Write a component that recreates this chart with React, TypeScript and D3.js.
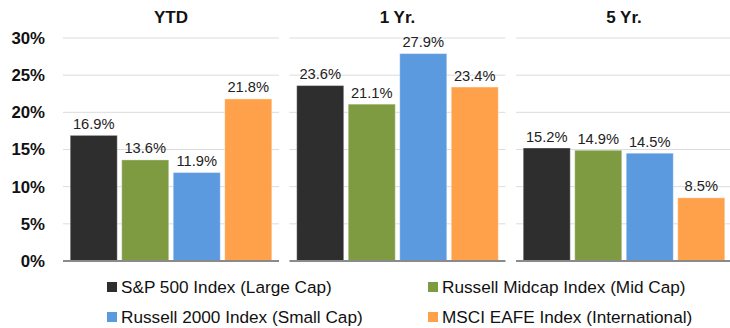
import * as React from 'react';
import * as d3 from 'd3';

const periods = ['YTD', '1 Yr.', '5 Yr.'];
const seriesNames = [
    'S&P 500 Index (Large Cap)',
    'Russell Midcap Index (Mid Cap)',
    'Russell 2000 Index (Small Cap)',
    'MSCI EAFE Index (International)'
];
const seriesColors = ['#2e2e2e', '#7f9b42', '#5c9ae0', '#ffa04a'];
// one row per series, one value per period
const sp500 = [16.9, 23.6, 15.2];
const midcap = [13.6, 21.1, 14.9];
const russell2000 = [11.9, 27.9, 14.5];
const eafe = [21.8, 23.4, 8.5];
const yTicks = [0, 5, 10, 15, 20, 25, 30];

const allSeries = [sp500, midcap, russell2000, eafe];

const width = 730;
const height = 328;

export default function App() {
    const y = d3.scaleLinear().domain([0, 30]).range([261, 38]);

    // panels
    const panel = d3.scaleBand<string>()
        .domain(periods)
        .range([63, 732])
        .paddingInner(0.0464)
        .paddingOuter(0);

    const inner = d3.scaleBand<number>()
        .domain(d3.range(seriesNames.length))
        .range([0, panel.bandwidth()])
        .paddingInner(0.087)
        .paddingOuter(0.14);

    const font = 'Liberation Sans, Arial, sans-serif';

    // legend placement
    const legendCols = [107, 428];
    const legendRows = [287, 317];

    return (
        <svg width={width} height={height}
            style={{ position: 'absolute', left: 0, top: 0, fontFamily: font }}>
            <rect width={width} height={height} fill="#ffffff" />

            {yTicks.map(t => (
                <text key={'yt' + t} x={45} y={y(t)} dy="0.35em" textAnchor="end"
                    fontSize={16.8} fontWeight="bold" fill="#111">
                    {t + '%'}
                </text>
            ))}

            {periods.map((p, pi) => {
                const x0 = panel(p) as number;
                const x1 = x0 + panel.bandwidth();
                return (
                    <g key={p}>
                        {yTicks.filter(t => t > 0).map(t => (
                            <line key={t} x1={x0} x2={x1} y1={y(t)} y2={y(t)}
                                stroke="#dcdcdc" strokeWidth={1} />
                        ))}
                        <text x={x0 + (inner(0) as number + (inner(3) as number) + inner.bandwidth()) / 2}
                            y={23} textAnchor="middle" fontSize={17} fontWeight="bold" fill="#111">
                            {p}
                        </text>
                        {allSeries.map((s, si) => {
                            const bx = x0 + (inner(si) as number);
                            const v = s[pi];
                            return (
                                <g key={si}>
                                    <rect x={bx} y={y(v)} width={inner.bandwidth()}
                                        height={y(0) - y(v)} fill={seriesColors[si]}
                                        stroke="#ffffff" strokeOpacity={0.35} strokeWidth={1} />
                                    <text x={bx + inner.bandwidth() / 2} y={y(v) - 6.5}
                                        textAnchor="middle" fontSize={14.7} fill="#222">
                                        {v.toFixed(1) + '%'}
                                    </text>
                                </g>
                            );
                        })}
                        <line x1={x0} x2={x1} y1={y(0)} y2={y(0)} stroke="#8a8a8a" strokeWidth={2} />
                    </g>
                );
            })}

            {seriesNames.map((name, i) => {
                const lx = legendCols[i % 2];
                const ly = legendRows[Math.floor(i / 2)];
                return (
                    <g key={name}>
                        <rect x={lx} y={ly - 5} width={10} height={10} fill={seriesColors[i]} />
                        <text x={lx + 14} y={ly} dy="0.35em" fontSize={17.2} fill="#111">
                            {name}
                        </text>
                    </g>
                );
            })}
        </svg>
    );
}
